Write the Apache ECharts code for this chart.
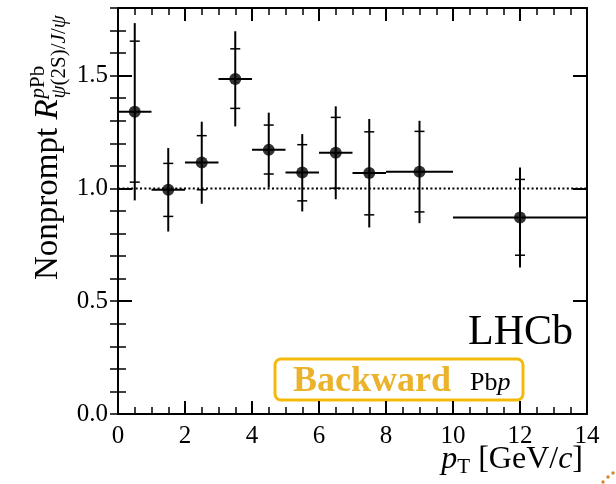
<!DOCTYPE html>
<html>
<head>
<meta charset="utf-8">
<script src="https://cdn.jsdelivr.net/npm/echarts@6/dist/echarts.min.js"></script>
<style>
html,body{margin:0;padding:0;background:#fff;}
#chart{width:616px;height:484px;}
</style>
</head>
<body>
<div id="chart"></div>
<script>
// ---- data ----
const ptCenter = [0.5, 1.5, 2.5, 3.5, 4.5, 5.5, 6.5, 7.5, 9, 12];
const ptLow    = [0, 1, 2, 3, 4, 5, 6, 7, 8, 10];
const ptHigh   = [1, 2, 3, 4, 5, 6, 7, 8, 10, 14];
const ratio    = [1.340, 0.994, 1.115, 1.485, 1.171, 1.071, 1.158, 1.068, 1.074, 0.871];
const statLow  = [1.028, 0.876, 0.994, 1.355, 1.064, 0.945, 1.001, 0.883, 0.896, 0.704];
const statHigh = [1.653, 1.111, 1.234, 1.619, 1.281, 1.194, 1.315, 1.251, 1.253, 1.040];
const totLow   = [0.947, 0.809, 0.932, 1.275, 1.004, 0.898, 0.952, 0.827, 0.846, 0.649];
const totHigh  = [1.733, 1.179, 1.296, 1.697, 1.336, 1.241, 1.364, 1.308, 1.300, 1.093];
const unityX   = [0, 14];
const unityY   = 1.0;
const xRange   = [0, 14];
const yRange   = [0, 1.8];

const SERIF = '"Liberation Serif", "DejaVu Serif", serif';

const chart = echarts.init(document.getElementById('chart'), null, {renderer: 'canvas'});

const errData = ptCenter.map((x, i) => [x, ratio[i], ptLow[i], ptHigh[i], statLow[i], statHigh[i], totLow[i], totHigh[i]]);
const pointData = ptCenter.map((x, i) => [x, ratio[i]]);
const unityData = unityX.map(x => [x, unityY]);

// text measuring helper for composing sub/superscripts
const mctx = document.createElement('canvas').getContext('2d');
function fontOf(p) { return (p[2] ? 'italic ' : '') + (p[3] ? 'bold ' : '') + p[1] + 'px ' + SERIF; }
function tw(text, font) { mctx.font = font; return mctx.measureText(text).width; }

function compose(pieces, startX, baseline) {
  // pieces: [text, size, italic, bold, dy(baseline shift), color]
  const out = [];
  let x = startX;
  pieces.forEach(p => {
    const font = fontOf(p);
    out.push({
      type: 'text', x: x, y: baseline + (p[4] || 0) - 0.34 * p[1],
      style: {text: p[0], font: font, fill: p[5] || '#000', align: 'left', verticalAlign: 'middle'}
    });
    x += tw(p[0], font);
  });
  return {items: out, width: x - startX};
}
function width(pieces) {
  let w = 0;
  pieces.forEach(p => { w += tw(p[0], fontOf(p)); });
  return w;
}

// x-axis title
const xTitlePieces = [['p', 32, true], ['T', 21, false, false, 5], [' [GeV/', 32], ['c', 32, true], [']', 32]];
const xTitle = compose(xTitlePieces, 583 - width(xTitlePieces), 470);

// y-axis title (rotated group, local baseline at y=0)
const yMainC = compose([['Nonprompt ', 33], ['R', 33, true]], 0, 0);
const rEnd = yMainC.width + 1;
const supC = compose([['p', 21, true], ['Pb', 21]], rEnd, -14);
const subC = compose([['ψ', 21, true], ['(2', 21], ['S', 21], [')/', 21], ['J', 21, true], ['/', 21], ['ψ', 21, true]], rEnd, 7);

const legendMain = compose([['Backward', 36, false, true, 0, '#ebb32b']], 293, 394);
const legendSub = compose([['Pb', 26], ['p', 26, true]], 470, 392);

const axisBase = {
  type: 'value',
  min: yRange[0], max: yRange[1],
  splitLine: {show: false},
  axisLine: {show: true, onZero: false, lineStyle: {color: '#000', width: 2}},
};

const option = {
  backgroundColor: '#fff',
  animation: false,
  grid: {left: 118, right: 29, top: 8, bottom: 70, containLabel: false},
  xAxis: [
    {
      type: 'value', position: 'bottom', min: xRange[0], max: xRange[1], interval: 2,
      splitLine: {show: false},
      axisLine: {show: true, onZero: false, lineStyle: {color: '#000', width: 2}},
      axisTick: {show: true, inside: true, length: 13, lineStyle: {color: '#000', width: 2}},
      minorTick: {show: true, splitNumber: 4, length: 7, lineStyle: {color: '#000', width: 1.5}},
      axisLabel: {show: true, margin: 10, color: '#000', fontSize: 25, fontFamily: SERIF}
    },
    {
      type: 'value', position: 'top', min: xRange[0], max: xRange[1], interval: 2,
      splitLine: {show: false},
      axisLine: {show: true, onZero: false, lineStyle: {color: '#000', width: 2}},
      axisTick: {show: true, inside: true, length: 13, lineStyle: {color: '#000', width: 2}},
      minorTick: {show: true, splitNumber: 4, length: 7, lineStyle: {color: '#000', width: 1.5}},
      axisLabel: {show: false}
    }
  ],
  yAxis: [
    Object.assign({}, axisBase, {
      position: 'left', interval: 0.5,
      axisTick: {show: true, inside: true, length: 14, lineStyle: {color: '#000', width: 2}},
      axisLabel: {show: true, margin: 10, color: '#000', fontSize: 25, fontFamily: SERIF,
        showMaxLabel: false, formatter: v => (Math.abs(v * 2 - Math.round(v * 2)) < 1e-6 ? v.toFixed(1) : '')}
    }),
    Object.assign({}, axisBase, {
      position: 'right', interval: 0.5,
      axisTick: {show: true, inside: true, length: 14, lineStyle: {color: '#000', width: 2}},
      axisLabel: {show: false}
    }),
    Object.assign({}, axisBase, {
      position: 'left', interval: 0.1,
      axisLine: {show: false},
      axisTick: {show: true, inside: true, length: 8, lineStyle: {color: '#000', width: 1.5}},
      axisLabel: {show: false}
    }),
    Object.assign({}, axisBase, {
      position: 'right', interval: 0.1,
      axisLine: {show: false},
      axisTick: {show: true, inside: true, length: 8, lineStyle: {color: '#000', width: 1.5}},
      axisLabel: {show: false}
    })
  ],
  series: [
    {
      type: 'line', xAxisIndex: 0, yAxisIndex: 0, data: unityData, symbol: 'none', silent: true,
      lineStyle: {color: '#000', width: 2, type: [2, 2.4]}, z: 2
    },
    {
      type: 'custom', xAxisIndex: 0, yAxisIndex: 0, data: errData, clip: false, z: 3,
      encode: {x: 0, y: 1},
      renderItem: function (params, api) {
        const xc = api.value(0), yv = api.value(1);
        const c = api.coord([xc, yv]);
        const l = api.coord([api.value(2), yv]);
        const h = api.coord([api.value(3), yv]);
        const sl = api.coord([xc, api.value(4)]);
        const sh = api.coord([xc, api.value(5)]);
        const tl = api.coord([xc, api.value(6)]);
        const th = api.coord([xc, api.value(7)]);
        const hw = 5;
        const st = {stroke: '#000', lineWidth: 2};
        const st2 = {stroke: '#000', lineWidth: 1.5};
        return {type: 'group', children: [
          {type: 'line', shape: {x1: l[0], y1: c[1], x2: h[0], y2: c[1]}, style: st},
          {type: 'line', shape: {x1: c[0], y1: tl[1], x2: c[0], y2: th[1]}, style: st},
          {type: 'line', shape: {x1: c[0] - hw, y1: sl[1], x2: c[0] + hw, y2: sl[1]}, style: st2},
          {type: 'line', shape: {x1: c[0] - hw, y1: sh[1], x2: c[0] + hw, y2: sh[1]}, style: st2}
        ]};
      }
    },
    {
      type: 'scatter', xAxisIndex: 0, yAxisIndex: 0, data: pointData, symbol: 'circle', symbolSize: 12,
      itemStyle: {color: '#000'}, z: 4
    }
  ],
  graphic: [
    {type: 'group', children: xTitle.items},
    {type: 'group', x: 60, y: 280, rotation: Math.PI / 2,
      children: yMainC.items.concat(supC.items, subC.items)},
    {type: 'text', x: 573, y: 347 - 0.34 * 42,
      style: {text: 'LHCb', font: '42px ' + SERIF, fill: '#000', align: 'right', verticalAlign: 'middle'}},
    {type: 'rect', shape: {x: 275, y: 359, width: 248, height: 41, r: 6},
      style: {fill: 'none', stroke: '#f5b90a', lineWidth: 3}},
    {type: 'group', children: legendMain.items.concat(legendSub.items)},
    {type: 'circle', shape: {cx: 603, cy: 482, r: 1.7}, style: {fill: '#d4862c'}},
    {type: 'circle', shape: {cx: 608, cy: 477, r: 1.7}, style: {fill: '#d4862c'}},
    {type: 'circle', shape: {cx: 613, cy: 473, r: 1.7}, style: {fill: '#d4862c'}}
  ]
};

chart.setOption(option);
</script>
</body>
</html>
